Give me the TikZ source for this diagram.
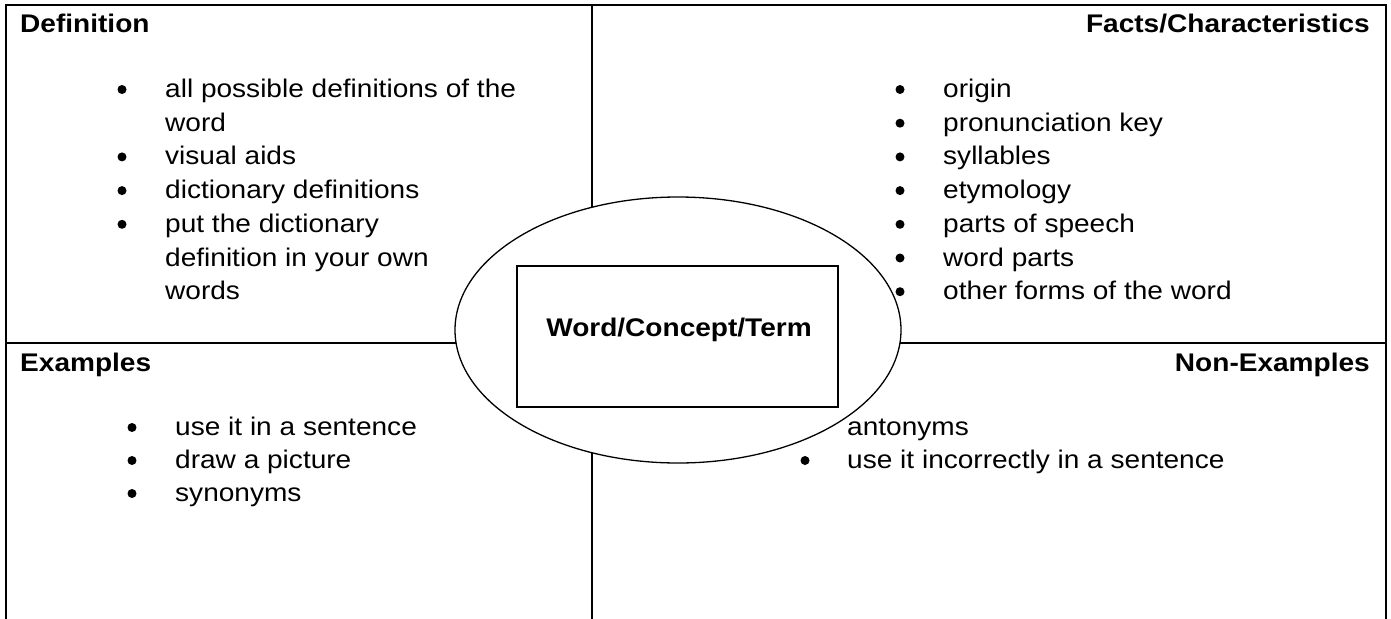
\documentclass[tikz,border=0pt]{standalone}
\usepackage{fontspec}
\setmainfont{Liberation Sans}[FakeStretch=1.1]
\usetikzlibrary{shapes.geometric}
\begin{document}
\begin{tikzpicture}[x=1pt,y=-1pt,
  gridline/.style={line width=2.2pt, line join=miter, line cap=rect},
  txt/.style={anchor=base west, inner sep=0pt, font=\fontsize{25.5}{30}\selectfont},
  hdrl/.style={anchor=base west, inner sep=0pt, font=\fontsize{25.5}{30}\selectfont\bfseries},
  hdrr/.style={anchor=base east, inner sep=0pt, font=\fontsize{25.5}{30}\selectfont\bfseries},
  bul/.style={circle, fill=black, inner sep=0pt, minimum size=9pt},
  oval/.style={draw, ellipse, fill=white, line width=1.3pt, inner sep=0pt},
  cbox/.style={draw, fill=white, line width=1.6pt, inner sep=0pt}]
\useasboundingbox (0,0) rectangle (1391,618);

% frame and quadrant lines
\coordinate (bl) at (6,618);
\coordinate (tl) at (6,5);
\coordinate (tr) at (1386,5);
\coordinate (br) at (1386,618);
\coordinate (tm) at (592,5);
\coordinate (bm) at (592,618);
\coordinate (ml) at (6,343);
\coordinate (mr) at (1386,343);
\draw[gridline] (bl) -- (tl) -- (tr) -- (br);
\draw[gridline] (tm) -- (bm);
\draw[gridline] (ml) -- (mr);

% headers
\node[hdrl] (hdef) at (20,33) {Definition};
\node[hdrr] (hfac) at (1370,33) {Facts/Characteristics};
\node[hdrl] (hex) at (20,371) {Examples};
\node[hdrr] (hnon) at (1370,371) {Non-Examples};

% Definition list
\node[txt] (d1) at (165,97.5) {all possible definitions of the};
\node[txt] (d2) at (165,131.2) {word};
\node[txt] (d3) at (165,164.9) {visual aids};
\node[txt] (d4) at (165,198.6) {dictionary definitions};
\node[txt] (d5) at (165,232.3) {put the dictionary};
\node[txt] (d6) at (165,266.0) {definition in your own};
\node[txt] (d7) at (165,299.7) {words};
\node[bul] (db1) at (122,89.5) {};
\node[bul] (db3) at (122,156.9) {};
\node[bul] (db4) at (122,190.6) {};
\node[bul] (db5) at (122,224.3) {};

% Facts list
\node[txt] (f1) at (943,97.5) {origin};
\node[txt] (f2) at (943,131.2) {pronunciation key};
\node[txt] (f3) at (943,164.9) {syllables};
\node[txt] (f4) at (943,198.6) {etymology};
\node[txt] (f5) at (943,232.3) {parts of speech};
\node[txt] (f6) at (943,266.0) {word parts};
\node[txt] (f7) at (943,299.7) {other forms of the word};
\node[bul] (fb1) at (900,89.5) {};
\node[bul] (fb2) at (900,123.2) {};
\node[bul] (fb3) at (900,156.9) {};
\node[bul] (fb4) at (900,190.6) {};
\node[bul] (fb5) at (900,224.3) {};
\node[bul] (fb6) at (900,258.0) {};
\node[bul] (fb7) at (900,291.7) {};

% Examples list
\node[txt] (e1) at (175,435.5) {use it in a sentence};
\node[txt] (e2) at (175,468.5) {draw a picture};
\node[txt] (e3) at (175,501.5) {synonyms};
\node[bul] (eb1) at (132,427.5) {};
\node[bul] (eb2) at (132,460.5) {};
\node[bul] (eb3) at (132,493.5) {};

% Non-Examples list
\node[txt] (n1) at (847,435.5) {antonyms};
\node[txt] (n2) at (847,468.5) {use it incorrectly in a sentence};
\node[bul] (nb2) at (805,460.5) {};

% centre
\node[oval, minimum width=446pt, minimum height=266pt] (ell) at (678,330) {};
\node[cbox, minimum width=321pt, minimum height=141pt] (box) at (677.5,336.5) {};
\node[anchor=base, inner sep=0pt, font=\fontsize{25.5}{30}\selectfont\bfseries] (term) at (679,336) {Word/Concept/Term};
\end{tikzpicture}
\end{document}
